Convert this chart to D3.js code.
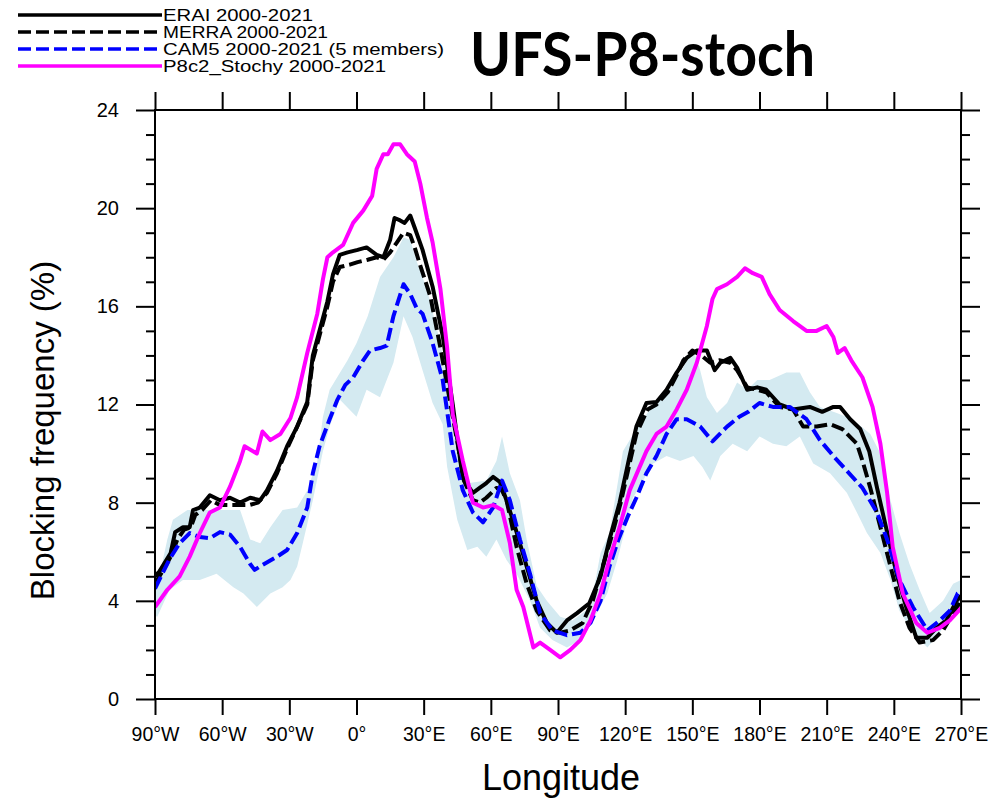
<!DOCTYPE html>
<html>
<head>
<meta charset="utf-8">
<script src="https://cdn.jsdelivr.net/npm/d3@7"></script>
<style>
  body { margin: 0; background: #fff; }
  svg { display: block; font-family: "Liberation Sans", Arial, sans-serif; }
</style>
</head>
<body>
<svg id="chart" width="1008" height="802"></svg>
<script>
// series: [longitude, blocking frequency %]
var erai = [[-90,5.0],[-88,5.2],[-83,5.95],[-81,6.8],[-77.5,7.0],[-74.5,7.0],[-73,7.7],[-70,7.8],[-65.5,8.3],[-61,8.1],[-56.5,8.2],[-52,8.0],[-47.5,8.2],[-43,8.1],[-40,8.5],[-35.5,9.3],[-31,10.3],[-26.5,11.1],[-22,12.1],[-19.5,14.0],[-13,16.2],[-10.5,17.3],[-7.5,18.1],[-4,18.2],[0.5,18.3],[4.5,18.4],[9,18.1],[12,18.0],[15,18.7],[17,19.6],[19.5,19.5],[21.5,19.4],[24,19.7],[26,19.2],[29.5,18.3],[34,16.8],[38.5,14.8],[43,12.0],[45,10.6],[47.5,9.0],[52,8.4],[55,8.6],[58,8.8],[61,9.05],[64,8.85],[67,8.1],[71.5,6.8],[76,5.4],[80.5,4.0],[85,3.1],[89.5,2.7],[94,3.2],[98.5,3.5],[104,3.9],[109,5.0],[113,6.5],[117.5,8.0],[122,9.9],[125,11.1],[129.5,12.06],[134,12.1],[138.5,12.6],[143,13.3],[147.5,13.9],[152,14.2],[156.5,14.2],[160,13.4],[162.5,13.7],[167,13.9],[170,13.5],[174.5,12.6],[179,12.7],[183,12.6],[189,12.0],[195,11.8],[202.5,11.9],[208,11.7],[213,11.9],[216,11.9],[220.5,11.4],[225,11.0],[229,10.1],[232.5,8.6],[237,6.8],[241.5,5.0],[246,3.6],[250,2.5],[255,2.5],[259,2.9],[263.5,3.2],[268,4.0],[270,4.2]];

var merra = [[-90,4.7],[-86,5.3],[-83,5.8],[-80,6.5],[-77,6.9],[-74,7.0],[-72,7.5],[-69,7.7],[-65,8.1],[-61,7.9],[-57,7.9],[-52,7.9],[-48,7.9],[-44,8.0],[-40,8.4],[-35.5,9.2],[-31,10.2],[-26.5,11.1],[-22,12.0],[-19.5,13.8],[-13,16.0],[-10.5,17.0],[-7.5,17.6],[-3,17.7],[0.5,17.8],[5,17.9],[9,18.0],[12,17.9],[15,18.2],[18,18.6],[21,19.0],[24,18.9],[26,18.4],[28,17.8],[33,16.4],[37.5,14.3],[42,12.0],[45,10.5],[48,8.9],[52,8.1],[55,8.0],[58,8.2],[62.5,8.6],[65,8.5],[67,8.1],[71.5,6.2],[76,4.7],[80.5,3.6],[86.5,2.8],[91,2.7],[95.5,2.8],[101,3.1],[105.5,4.0],[110,5.4],[114.5,6.8],[118,8.0],[122,9.6],[125,10.8],[130,11.8],[134,12.0],[139,12.5],[143,13.2],[146,13.8],[150,14.2],[154,14.0],[158,13.7],[162,13.8],[167,13.7],[170,13.4],[174.5,12.7],[179,12.6],[183,12.5],[189,11.9],[195,11.8],[199.5,11.1],[205.5,11.1],[211.5,11.2],[217,11.0],[223.5,10.4],[226,9.7],[229.5,8.6],[234,7.0],[238.5,5.4],[242.5,4.0],[247,2.9],[251.5,2.3],[257.5,2.4],[262,2.8],[266.5,3.5],[270,4.0]];

var cam5 = [[-90,4.5],[-83.5,5.7],[-79,6.35],[-74.5,6.76],[-70,6.6],[-65.5,6.55],[-61,6.8],[-56.5,6.7],[-52,6.2],[-47.5,5.5],[-45.5,5.26],[-42,5.46],[-35.5,5.8],[-31,6.07],[-26.5,6.76],[-22,7.8],[-19.5,9.2],[-16.5,10.3],[-12,11.4],[-8.5,12.2],[-5,12.8],[-1.5,13.1],[3,13.8],[6,14.2],[10.5,14.3],[13.5,14.4],[16.5,15.6],[21,16.9],[24,16.5],[27,15.9],[29.5,15.7],[34,14.5],[38.5,13.0],[43,10.1],[47.5,8.5],[52,7.6],[56.5,7.2],[61,7.8],[65,8.9],[68.5,8.1],[73,6.5],[77.5,5.1],[82,3.5],[87.5,2.8],[94,2.6],[100,2.7],[104.5,3.1],[109,4.0],[113,5.4],[117,6.5],[121,7.4],[125,8.2],[129.5,9.2],[134,9.9],[138.5,10.8],[143,11.4],[147.5,11.4],[153.5,11.1],[159,10.5],[165.5,11.1],[171,11.5],[175,11.7],[180,12.06],[186,11.9],[193.5,11.9],[201,11.4],[207,10.55],[213,9.9],[219,9.3],[226,8.6],[232.5,7.6],[237,6.5],[242.5,4.85],[248.5,3.75],[255,2.8],[260.5,3.2],[265,3.6],[268.5,4.3],[270,4.4]];

var p8c2 = [[-90,3.75],[-84.5,4.45],[-79,5.0],[-74.5,5.8],[-70,6.76],[-65.5,7.6],[-61,7.8],[-56.5,8.65],[-52,9.7],[-50,10.3],[-44.5,10.0],[-42,10.9],[-38.5,10.55],[-34,10.8],[-29.5,11.45],[-26.5,12.3],[-22,14.1],[-17.5,15.7],[-15,17.1],[-13,18.0],[-10.5,18.2],[-6,18.5],[-1.5,19.4],[3,19.9],[7,20.5],[9,21.6],[12,22.2],[14,22.2],[16.5,22.6],[19.5,22.6],[22.5,22.2],[26,21.9],[28.5,21.0],[31.5,19.6],[34,18.6],[37.5,16.7],[40.5,14.3],[43,11.6],[47.5,9.7],[52,8.0],[56.5,7.8],[61,7.9],[65,7.7],[68.5,6.35],[71.5,4.45],[74.5,3.75],[79,2.1],[82,2.3],[86.5,2.0],[91,1.7],[95.5,2.0],[100,2.4],[104.5,3.2],[109,4.3],[113,5.7],[117.5,7.0],[122,8.5],[129.5,10.1],[134,10.8],[138.5,11.1],[143,11.8],[147.5,12.6],[152,13.7],[156.5,15.2],[159,16.3],[161,16.7],[165.5,16.9],[170,17.2],[173.5,17.55],[177,17.35],[181,17.2],[184.5,16.5],[189,15.85],[195,15.4],[201,15.0],[205.5,15.0],[210,15.2],[213,14.75],[215,14.1],[218,14.3],[221,13.8],[226,13.1],[230.5,11.9],[234,10.4],[237,8.4],[239.5,6.2],[244,4.3],[250,3.1],[255,2.7],[260.5,2.9],[265,3.2],[268.5,3.55],[270,3.7]];

// CAM5 member spread (shaded)
var bandHi = [[-90,4.4],[-89,4.6],[-84.5,6.5],[-82,7.3],[-75.5,7.7],[-70,7.7],[-59.5,7.7],[-52,7.7],[-47.5,6.5],[-43,6.35],[-38.5,7.0],[-33,7.7],[-26.5,7.8],[-22,8.5],[-17.5,9.7],[-15,11.5],[-12,12.6],[-4,13.8],[0,14.5],[5,15.6],[10.5,17.2],[16.5,18.0],[21,18.8],[24,18.7],[27,17.8],[31.5,16.7],[37.5,14.5],[42,12.3],[45,10.3],[50.5,8.8],[58,8.9],[62.5,9.7],[65,10.7],[68.5,9.2],[73,8.1],[76,6.5],[80.5,4.6],[85,4.0],[91,3.35],[96.5,3.2],[104.5,3.75],[109,5.95],[113,6.76],[119,10.1],[125,11.0],[131,11.8],[138.5,12.5],[144.5,13.3],[150.5,14.2],[153.5,13.4],[156.5,12.3],[161,11.65],[165.5,12.06],[170,12.9],[174.5,12.6],[179,13.0],[184.5,13.0],[192,13.3],[198,13.3],[202.5,12.5],[207,11.9],[214.5,11.65],[221.5,11.4],[229.5,10.8],[234,10.0],[238.5,8.1],[242.5,6.76],[247,5.5],[251.5,4.45],[256,3.5],[262,4.0],[266.5,4.7],[270,4.85]];

var bandLo = [[-90,3.4],[-89,3.35],[-83.5,4.45],[-77.5,4.85],[-70,4.85],[-62.5,5.1],[-55,4.55],[-50.5,4.3],[-44.5,3.75],[-38.5,4.3],[-33,4.55],[-29.5,4.85],[-26.5,5.4],[-24,6.35],[-19.5,8.1],[-15,10.1],[-12,11.1],[-7.5,12.2],[0,11.5],[4.5,12.6],[10.5,12.3],[16.5,13.7],[21,15.6],[25,14.75],[29.5,13.4],[34,12.06],[38.5,11.2],[40.5,9.45],[45,7.3],[49.5,6.07],[54,6.2],[58,5.8],[62.5,6.5],[67,5.66],[71.5,5.1],[77.5,4.0],[82,2.9],[87.5,2.4],[94,2.1],[100,2.4],[105.5,3.2],[112,4.3],[116.5,5.66],[123.5,8.2],[128,8.9],[132.5,9.6],[138.5,9.9],[144.5,9.7],[150.5,9.9],[154.5,9.45],[158,8.9],[162.5,9.9],[168,10.4],[174.5,10.1],[180,10.7],[186,10.4],[192,10.3],[198,10.7],[204,9.6],[211.5,9.2],[219,8.4],[223.5,7.6],[228,6.76],[234,5.95],[238.5,4.85],[242.5,3.6],[248.5,2.7],[255,2.1],[260.5,2.7],[266.5,3.6],[270,4.0]];

var lonTicks = [-90, -60, -30, 0, 30, 60, 90, 120, 150, 180, 210, 240, 270];
var yTicks = [0, 4, 8, 12, 16, 20, 24];
var legendLabels = ["ERAI 2000-2021", "MERRA 2000-2021", "CAM5 2000-2021 (5 members)", "P8c2_Stochy 2000-2021"];
var chartTitle = "UFS-P8-stoch";

var svg = d3.select("#chart");
var margin = { left: 155, right: 47, top: 110, bottom: 103 };
var width = 1008 - margin.left - margin.right;
var height = 802 - margin.top - margin.bottom;

var x = d3.scaleLinear().domain([-90, 270]).range([0, width]);
var y = d3.scaleLinear().domain([0, 24]).range([height, 0]);

var g = svg.append("g").attr("transform", "translate(" + margin.left + "," + margin.top + ")");

g.append("clipPath").attr("id", "clip")
  .append("rect").attr("width", width).attr("height", height);

var plot = g.append("g").attr("clip-path", "url(#clip)");

// shaded spread
var bandPts = bandHi.concat(bandLo.slice().reverse());
plot.append("path")
  .attr("d", d3.line().x(function (d) { return x(d[0]); }).y(function (d) { return y(d[1]); })(bandPts) + "Z")
  .attr("fill", "#d4eaf1")
  .attr("stroke", "none");

var line = d3.line()
  .x(function (d) { return x(d[0]); })
  .y(function (d) { return y(d[1]); });

var styles = [
  { data: erai, color: "#000", dash: null },
  { data: merra, color: "#000", dash: "13,5" },
  { data: cam5, color: "#0000ff", dash: "13,5" },
  { data: p8c2, color: "#ff00ff", dash: null }
];

styles.forEach(function (s) {
  plot.append("path")
    .attr("d", line(s.data))
    .attr("fill", "none")
    .attr("stroke", s.color)
    .attr("stroke-width", 4)
    .attr("stroke-linejoin", "round")
    .attr("stroke-dasharray", s.dash);
});

// axes
function lonFmt(d) {
  if (d < 0) return (-d) + "°W";
  if (d === 0) return "0°";
  return d + "°E";
}

var minorY = d3.range(0, 25).filter(function (d) { return d % 4 !== 0; });

function styleAxis(sel) {
  sel.select(".domain").remove();
  sel.selectAll("line").attr("stroke", "#000").attr("stroke-width", 2);
}

var xAxis = g.append("g").attr("transform", "translate(0," + height + ")")
  .call(d3.axisBottom(x).tickValues(lonTicks).tickFormat(lonFmt).tickSize(16).tickPadding(12));
styleAxis(xAxis);
xAxis.selectAll("text").attr("font-size", 19.5).attr("fill", "#000")
  .attr("font-family", "Liberation Sans, Arial, sans-serif");

g.append("g")
  .call(d3.axisTop(x).tickValues(lonTicks).tickFormat("").tickSize(18))
  .call(styleAxis);

var yAxis = g.append("g")
  .call(d3.axisLeft(y).tickValues(yTicks).tickSize(19).tickPadding(17));
styleAxis(yAxis);
yAxis.selectAll("text").attr("font-size", 20).attr("fill", "#000")
  .attr("font-family", "Liberation Sans, Arial, sans-serif");

g.append("g")
  .call(d3.axisLeft(y).tickValues(minorY).tickFormat("").tickSize(9))
  .call(styleAxis);

g.append("g").attr("transform", "translate(" + width + ",0)")
  .call(d3.axisRight(y).tickValues(yTicks).tickFormat("").tickSize(19))
  .call(styleAxis);

g.append("g").attr("transform", "translate(" + width + ",0)")
  .call(d3.axisRight(y).tickValues(minorY).tickFormat("").tickSize(9))
  .call(styleAxis);

// frame
g.append("rect")
  .attr("width", width).attr("height", height)
  .attr("fill", "none").attr("stroke", "#000").attr("stroke-width", 2);

// axis titles
svg.append("text")
  .attr("x", margin.left + width / 2 + 3)
  .attr("y", 790)
  .attr("text-anchor", "middle")
  .attr("font-size", 36)
  .text("Longitude");

svg.append("text")
  .attr("transform", "translate(54," + (margin.top + height / 2 + 26) + ") rotate(-90)")
  .attr("text-anchor", "middle")
  .attr("font-size", 33)
  .text("Blocking frequency (%)");

// title
svg.append("text")
  .attr("x", 470)
  .attr("y", 76)
  .attr("font-family", "Lato, 'Open Sans', sans-serif")
  .attr("font-weight", "bold")
  .attr("font-size", 62)
  .attr("textLength", 345)
  .attr("lengthAdjust", "spacingAndGlyphs")
  .text(chartTitle);

// legend
var legend = svg.append("g");
var legendWidths = [150, 165, 281, 223];
legendLabels.forEach(function (lab, i) {
  var ly = 15 + i * 17;
  legend.append("line")
    .attr("x1", 18).attr("x2", 162)
    .attr("y1", ly).attr("y2", ly)
    .attr("stroke", styles[i].color)
    .attr("stroke-width", 3.5)
    .attr("stroke-dasharray", styles[i].dash);
  legend.append("text")
    .attr("x", 163)
    .attr("y", ly + 6)
    .attr("font-size", 16)
    .attr("textLength", legendWidths[i])
    .attr("lengthAdjust", "spacingAndGlyphs")
    .text(lab);
});
</script>
</body>
</html>
